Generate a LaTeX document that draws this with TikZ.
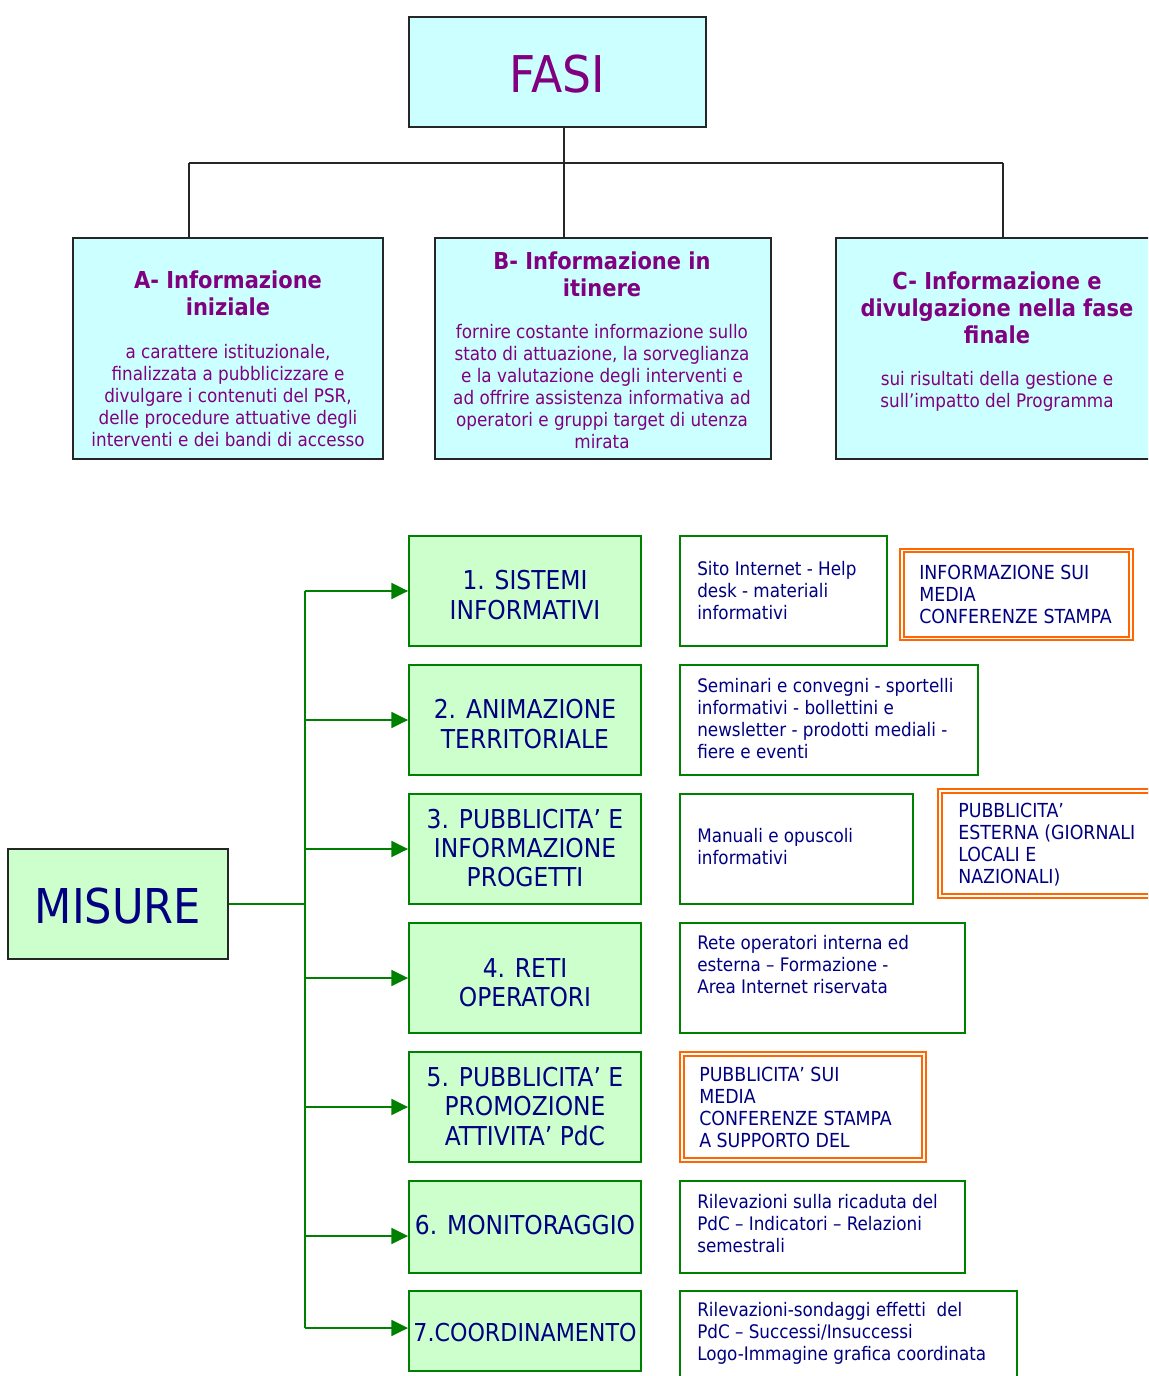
\documentclass[tikz,border=0pt]{standalone}
\usepackage{fontspec}
\setmainfont{DejaVu Sans Condensed}
\usetikzlibrary{arrows.meta}
\definecolor{fcyan}{HTML}{CCFFFF}
\definecolor{fgreen}{HTML}{CCFFCC}
\definecolor{lgreen}{HTML}{008000}
\definecolor{tpurple}{HTML}{800080}
\definecolor{tnavy}{HTML}{000080}
\definecolor{lorange}{HTML}{FF6600}
\tikzset{
  x=0.75pt, y=-0.75pt,
  fasebox/.style={draw=black!85, line width=1.5pt, fill=fcyan, inner sep=0pt},
  misbox/.style={draw=lgreen, line width=1.4pt, fill=fgreen, inner sep=0pt, minimum width=174pt},
  mistext/.style={text=tnavy, inner sep=0pt, align=center, font=\fontsize{19.5}{22}\selectfont},
  detbox/.style={draw=lgreen, line width=1.1pt, fill=white, inner sep=0pt},
  orbox/.style={draw=lorange, line width=1.5pt, double=white, double distance=1.3pt, fill=white, inner sep=0pt},
  dettext/.style={anchor=west, align=left, text=tnavy, inner sep=0pt, font=\fontsize{14}{16.5}\selectfont},
  ortext/.style={anchor=west, align=left, text=tnavy, inner sep=0pt, font=\fontsize{14.5}{16.5}\selectfont},
  ttitle/.style={align=center, text=tpurple, inner sep=0pt, font=\fontsize{17.5}{20.25}\selectfont\bfseries},
  tbody/.style={align=center, text=tpurple, inner sep=0pt, font=\fontsize{14}{16.5}\selectfont},
  blk/.style={draw=black!85, line width=1.1pt},
  grn/.style={draw=lgreen, line width=1.1pt},
  garrow/.style={grn, -{Triangle[length=12.5pt,width=12pt]}},
}
\begin{document}
\begin{tikzpicture}
\useasboundingbox (0,0) rectangle (1148,1376);
\clip (0,0) rectangle (1148,1376);
\fill[white] (0,0) rectangle (1148,1376);

% ---------- FASI ----------
\node[fasebox, minimum width=222.75pt, minimum height=82.5pt] (fasi) at (557.5,72) {};
\node[text=tpurple, inner sep=0pt, font=\fontsize{38}{42}\selectfont] (fasit) at (557,74) {FASI};

\node[fasebox, minimum width=232.5pt, minimum height=165.75pt] (A) at (228,348.5) {};
\node[fasebox, minimum width=252pt, minimum height=165.75pt] (B) at (603,348.5) {};
\node[fasebox, minimum width=243pt, minimum height=165.75pt] (C) at (998,348.5) {};

\coordinate (jm) at (564,163);
\coordinate (ja) at (189,163);
\coordinate (jc) at (1003,163);
\draw[blk] (fasi.south -| jm) -- (jm);
\draw[blk] (ja) -- (jc);
\draw[blk] (ja) -- (A.north -| ja);
\draw[blk] (jm) -- (B.north -| jm);
\draw[blk] (jc) -- (C.north -| jc);

\node[ttitle] (At) at (228,293.5) {A- Informazione\\iniziale};
\node[tbody] (Ab) at (228,395.5) {a carattere istituzionale,\\finalizzata a pubblicizzare e\\divulgare i contenuti del PSR,\\delle procedure attuative degli\\interventi e dei bandi di accesso};

\node[ttitle] (Bt) at (602,274.5) {B- Informazione in\\itinere};
\node[tbody] (Bb) at (602,386.5) {fornire costante informazione sullo\\stato di attuazione, la sorveglianza\\e la valutazione degli interventi e\\ad offrire assistenza informativa ad\\operatori e gruppi target di utenza\\mirata};

\node[ttitle] (Ct) at (997,307.5) {C- Informazione e\\divulgazione nella fase\\finale};
\node[tbody] (Cb) at (997,391.5) {sui risultati della gestione e\\sull’impatto del Programma};

% ---------- MISURE ----------
\node[draw=black!85, line width=1.5pt, fill=fgreen, inner sep=0pt, minimum width=165pt, minimum height=82.5pt] (mis) at (118,904) {};
\node[text=tnavy, inner sep=0pt, font=\fontsize{36}{40}\selectfont] (mist) at (118,906) {MISURE};

\node[misbox, minimum height=82.5pt] (g1) at (525,591) {};
\node[misbox, minimum height=82.5pt] (g2) at (525,720) {};
\node[misbox, minimum height=82.5pt] (g3) at (525,849) {};
\node[misbox, minimum height=82.5pt] (g4) at (525,978) {};
\node[misbox, minimum height=82.5pt] (g5) at (525,1107) {};
\node[misbox, minimum height=69pt] (g6) at (525,1227) {};
\node[misbox, minimum height=60pt] (g7) at (525,1331) {};

\node[mistext] (g1t) at (525,595) {1. SISTEMI\\INFORMATIVI};
\node[mistext] (g2t) at (525,724) {2. ANIMAZIONE\\TERRITORIALE};
\node[mistext] (g3t) at (525,848) {3. PUBBLICITA’ E\\INFORMAZIONE\\PROGETTI};
\node[mistext] (g4t) at (525,982.5) {4. RETI\\OPERATORI};
\node[mistext] (g5t) at (525,1106.5) {5. PUBBLICITA’ E\\PROMOZIONE\\ATTIVITA’ PdC};
\node[mistext] (g6t) at (525,1225) {6. MONITORAGGIO};
\node[mistext, font=\fontsize{18.5}{22}\selectfont] (g7t) at (525,1333) {7.COORDINAMENTO};

\coordinate (tr) at (305,904);
\coordinate (trtop) at (305,591);
\coordinate (trbot) at (305,1328);
\draw[grn] (mis.east) -- (tr);
\draw[grn] (trtop) -- (trbot);
\draw[garrow] (trtop) -- (g1.west);
\draw[garrow] (305,720) -- (g2.west);
\draw[garrow] (305,849) -- (g3.west);
\draw[garrow] (305,978) -- (g4.west);
\draw[garrow] (305,1107) -- (g5.west);
\draw[garrow] (305,1236) -- (g6.west |- 305,1236);
\draw[garrow] (trbot) -- (g7.west |- trbot);

% ---------- detail boxes ----------
\node[detbox, minimum width=155.25pt, minimum height=82.5pt] (r1) at (783.5,591) {};
\node[dettext] (r1t) at (697,590.5) {Sito Internet - Help\\desk - materiali\\informativi};

\node[detbox, minimum width=223.5pt, minimum height=82.5pt] (r2) at (829,720) {};
\node[dettext] (r2t) at (697,719) {Seminari e convegni - sportelli\\informativi - bollettini e\\newsletter - prodotti mediali -\\fiere e eventi};

\node[detbox, minimum width=174.75pt, minimum height=82.5pt] (r3) at (796.5,849) {};
\node[dettext] (r3t) at (697,847) {Manuali e opuscoli\\informativi};

\node[detbox, minimum width=213.75pt, minimum height=82.5pt] (r4) at (822.5,978) {};
\node[dettext] (r4t) at (697,964.5) {Rete operatori interna ed\\esterna – Formazione -\\Area Internet riservata};

\node[detbox, minimum width=213.75pt, minimum height=69pt] (r6) at (822.5,1227) {};
\node[dettext] (r6t) at (697,1223.5) {Rilevazioni sulla ricaduta del\\PdC – Indicatori – Relazioni\\semestrali};

\node[detbox, minimum width=252.75pt, minimum height=75pt] (r7) at (848.5,1341) {};
\node[dettext] (r7t) at (697,1333.5) {Rilevazioni-sondaggi effetti \ del\\PdC – Successi/Insuccessi\\Logo-Immagine grafica coordinata};

% ---------- orange boxes ----------
\node[orbox, minimum width=172pt, minimum height=66pt] (o1) at (1016.5,594.5) {};
\node[ortext] (o1t) at (919,594.5) {INFORMAZIONE SUI\\MEDIA\\CONFERENZE STAMPA};

\node[orbox, minimum width=164pt, minimum height=79pt] (o3) at (1049,843.5) {};
\node[ortext] (o3t) at (958,844.5) {PUBBLICITA’\\ESTERNA (GIORNALI\\LOCALI E\\NAZIONALI)};

\node[orbox, minimum width=182pt, minimum height=80pt] (o5) at (803,1107) {};
\node[ortext] (o5t) at (699,1107.5) {PUBBLICITA’ SUI\\MEDIA\\CONFERENZE STAMPA\\A SUPPORTO DEL};

\end{tikzpicture}
\end{document}
